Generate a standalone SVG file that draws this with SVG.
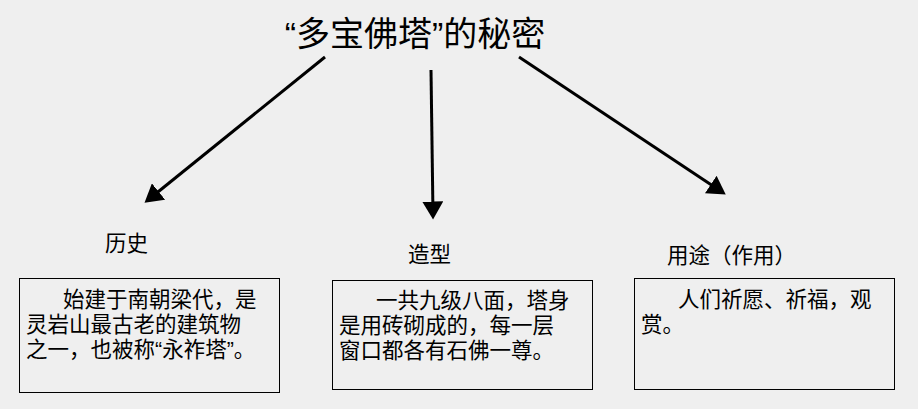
<svg xmlns="http://www.w3.org/2000/svg" width="918" height="409" viewBox="0 0 918 409">
<style>
text{font-family:"Liberation Sans","Noto Sans CJK SC",sans-serif;fill:#000}
.t{font-size:21.5px}
.b{fill:none;stroke:#000;stroke-width:1}
.c{stroke:#000;stroke-width:3;fill:none;marker-end:url(#a)}
</style>
<defs><marker id="a" markerWidth="7" markerHeight="7" refX="4.5" refY="3.5" orient="auto" markerUnits="strokeWidth"><path d="M0,0 L6,3.5 L0,7 z" fill="#000"/></marker></defs>
<rect width="918" height="409" fill="#efefef"/>
<g id="title"><text x="415" y="46" font-size="34" text-anchor="middle">“多宝佛塔”的秘密</text></g>
<g id="connectors">
<line class="c" x1="325" y1="57" x2="148" y2="200"/>
<line class="c" x1="431" y1="70" x2="433" y2="215"/>
<line class="c" x1="519" y1="57" x2="722" y2="192"/>
</g>
<g id="lishi"><text class="t" x="105" y="251">历史</text>
<rect class="b" x="19.5" y="278.5" width="260" height="114"/>
<text class="t" x="63" y="307">始建于南朝梁代，是</text>
<text class="t" x="26" y="332">灵岩山最古老的建筑物</text>
<text class="t" x="26" y="357">之一，也被称“永祚塔”。</text></g>
<g id="zaoxing"><text class="t" x="408" y="262">造型</text>
<rect class="b" x="332.5" y="280.5" width="260" height="109"/>
<text class="t" x="376" y="308">一共九级八面，塔身</text>
<text class="t" x="339" y="333">是用砖砌成的，每一层</text>
<text class="t" x="339" y="358">窗口都各有石佛一尊。</text></g>
<g id="yongtu"><text class="t" x="667" y="263">用途（作用）</text>
<rect class="b" x="634.5" y="278.5" width="260" height="111"/>
<text class="t" x="678" y="307">人们祈愿、祈福，观</text>
<text class="t" x="641" y="332">赏。</text></g>
</svg>
